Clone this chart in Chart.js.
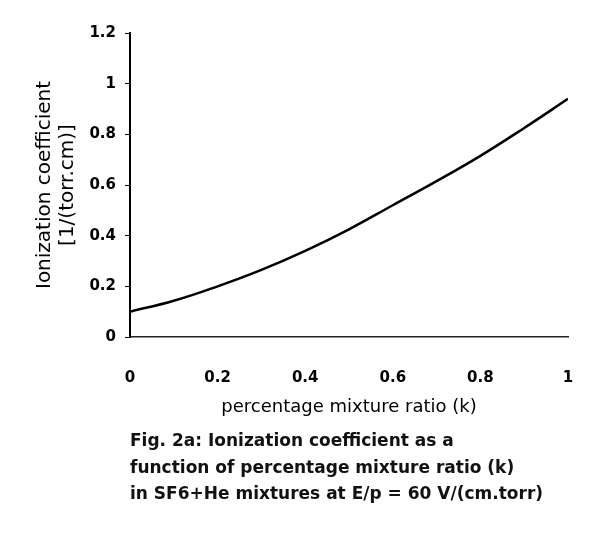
<!DOCTYPE html>
<html lang="en">
<head>
  <meta charset="UTF-8">
  <title>Ionization coefficient</title>
  <script src="https://cdn.jsdelivr.net/npm/chart.js"></script>
  <style>
    body { margin: 0; background: #fff; }
    #wrap { position: relative; width: 596px; height: 540px; }
    #caption {
      position: absolute; left: 130px; top: 427px;
      font: bold 17px "DejaVu Sans", sans-serif;
      line-height: 26.5px; color: #111; white-space: nowrap;
    }
  </style>
</head>
<body>
  <div id="wrap">
    <canvas id="chart" width="596" height="540"></canvas>
    <div id="caption">
      Fig. 2a: Ionization coefficient as a<br>
      function of percentage mixture ratio (k)<br>
      in SF6+He mixtures at E/p = 60 V/(cm.torr)
    </div>
  </div>

  <script>
    // values
    const mixtureRatio = [0, 0.1, 0.2, 0.3, 0.4, 0.5, 0.6, 0.7, 0.8, 0.9, 1];
    const ionCoeff = [0.10, 0.143, 0.20, 0.265, 0.34, 0.425, 0.52, 0.615, 0.715, 0.825, 0.94];
    const xTicks = [0, 0.2, 0.4, 0.6, 0.8, 1];
    const yTicks = [0, 0.2, 0.4, 0.6, 0.8, 1, 1.2];

    const family = '"DejaVu Sans", sans-serif';
    const tickFont = { family: family, size: 15, weight: 'bold' };

    new Chart(document.getElementById('chart').getContext('2d'), {
      type: 'line',
      data: {
        datasets: [{
          data: mixtureRatio.map((x, i) => ({ x: x, y: ionCoeff[i] })),
          borderColor: '#000',
          borderWidth: 2.5,
          pointRadius: 0,
          tension: 0.4,
          fill: false
        }]
      },
      options: {
        responsive: false,
        animation: false,
        layout: { padding: { left: 0, right: 28, top: 33, bottom: 113 } },
        plugins: { legend: { display: false }, tooltip: { enabled: false } },
        scales: {
          x: {
            type: 'linear',
            min: 0, max: 1,
            afterBuildTicks: s => { s.ticks = xTicks.map(v => ({ value: v })); },
            afterFit: s => { s.height = 90; s.paddingLeft = 0; s.paddingRight = 0; },
            grid: { display: true, drawOnChartArea: false, drawTicks: false },
            border: { display: true, color: '#222', width: 1.5 },
            ticks: { color: '#000', font: tickFont, padding: 32, maxRotation: 0, callback: v => String(v) },
            title: {
              display: true, text: 'percentage mixture ratio (k)', color: '#000',
              font: { family: family, size: 18 }, padding: { top: 0, bottom: 9 }
            }
          },
          y: {
            min: 0, max: 1.2,
            afterBuildTicks: s => { s.ticks = yTicks.map(v => ({ value: v })); },
            afterFit: s => { s.width = 130; s.paddingTop = 0; s.paddingBottom = 0; },
            grid: { display: true, drawOnChartArea: false, tickLength: 5, color: '#000' },
            border: { display: true, color: '#000', width: 2 },
            ticks: { color: '#000', font: tickFont, padding: 9, callback: v => String(v) },
            title: {
              display: true, text: ['Ionization coefficient', '[1/(torr.cm)]'], color: '#000',
              font: { family: family, size: 20, lineHeight: 1.15 }, padding: { top: 33.5, bottom: 0 }
            }
          }
        }
      }
    });
  </script>
</body>
</html>
